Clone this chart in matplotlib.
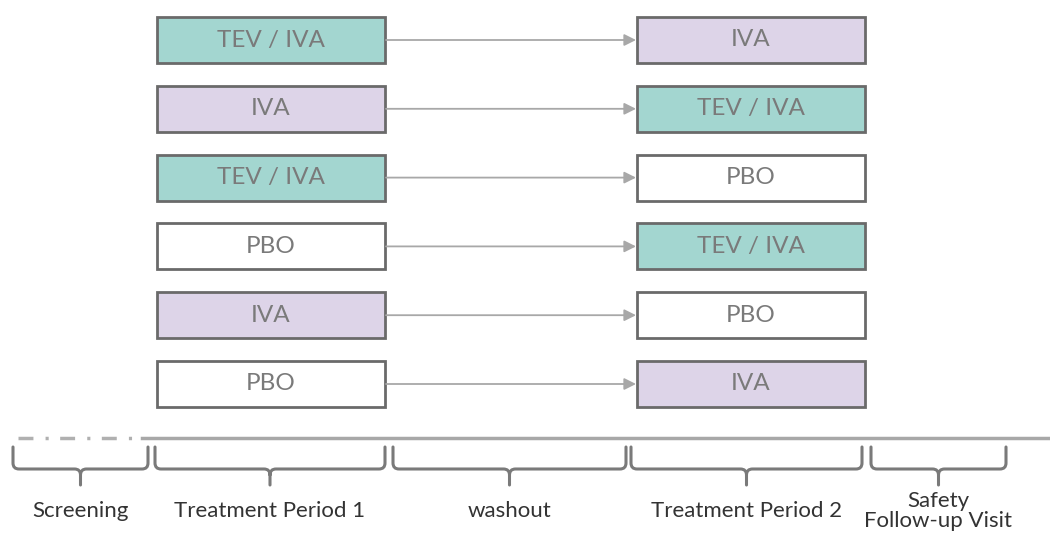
"""Crossover study design diagram."""

import matplotlib

matplotlib.use("Agg")

import matplotlib.pyplot as plt
from matplotlib.patches import FancyArrowPatch, PathPatch, Rectangle
from matplotlib.path import Path

# data
period1 = ["TEV / IVA", "IVA", "TEV / IVA", "PBO", "IVA", "PBO"]
period2 = ["IVA", "TEV / IVA", "PBO", "TEV / IVA", "PBO", "IVA"]
phases = ["Screening", "Treatment Period 1", "washout", "Treatment Period 2", "Safety\nFollow-up Visit"]

fill_colors = {"TEV / IVA": "#a3d6d0", "IVA": "#ddd4e8", "PBO": "#ffffff"}
EDGE = "#6a6a6a"
TEXT = "#7a7a7a"
LINE = "#a8a8a8"

plt.rcParams["font.family"] = ["Lato", "DejaVu Sans"]

# layout in pixels
box_w, box_h = 228, 46
left_x, right_x = 157, 637
row_top0, row_pitch = 17, 68.8
line_y = 438
brace_spans = [(13, 148), (155, 385), (393, 626), (631, 862), (871, 1006)]


def draw_brace(axis, x0, x1):
    top, mid, tip = 447, 469, 485
    cx = (x0 + x1) / 2
    r = 6
    verts = [
        (x0, top), (x0, mid - r), (x0, mid), (x0 + r, mid),
        (cx - r, mid), (cx, mid), (cx, mid + r), (cx, tip),
        (cx, mid + r), (cx, mid), (cx + r, mid),
        (x1 - r, mid), (x1, mid), (x1, mid - r), (x1, top),
    ]
    codes = [
        Path.MOVETO, Path.LINETO, Path.CURVE3, Path.CURVE3,
        Path.LINETO, Path.CURVE3, Path.CURVE3, Path.LINETO,
        Path.MOVETO, Path.CURVE3, Path.CURVE3,
        Path.LINETO, Path.CURVE3, Path.CURVE3, Path.LINETO,
    ]
    axis.add_patch(PathPatch(Path(verts, codes), fill=False, edgecolor="#7a7a7a", lw=2.2,
                             capstyle="round", joinstyle="round"))


fig = plt.figure(figsize=(10.5, 5.45), dpi=100)
ax = fig.add_axes([0, 0, 1, 1])
ax.set_xlim(0, 1050)
ax.set_ylim(545, 0)
ax.axis("off")

for i, (t1, t2) in enumerate(zip(period1, period2)):
    top = row_top0 + i * row_pitch
    cy = top + box_h / 2
    for x, label in ((left_x, t1), (right_x, t2)):
        ax.add_patch(Rectangle((x, top), box_w, box_h, facecolor=fill_colors[label],
                               edgecolor=EDGE, lw=2))
        ax.text(x + box_w / 2, cy, label, ha="center", va="center", fontsize=17.5,
                color=TEXT)
    ax.add_patch(FancyArrowPatch((left_x + box_w + 1, cy), (right_x - 1, cy),
                                 arrowstyle="-|>,head_length=7,head_width=3.5",
                                 color=LINE, lw=1.3, shrinkA=0, shrinkB=0))

# timeline
ax.plot([18, 136], [line_y, line_y], color="#b0b0b0", lw=2.5, dashes=(4.3, 3.5, 0.9, 3.3))
ax.plot([142, 1050], [line_y, line_y], color="#a8a8a8", lw=2.5)

for (x0, x1), name in zip(brace_spans, phases):
    draw_brace(ax, x0, x1)
    cx = (x0 + x1) / 2
    ax.text(cx, 511, name, ha="center", va="center", fontsize=16, color="#333333",
            linespacing=0.95)

fig.savefig("out.png", dpi=100)
